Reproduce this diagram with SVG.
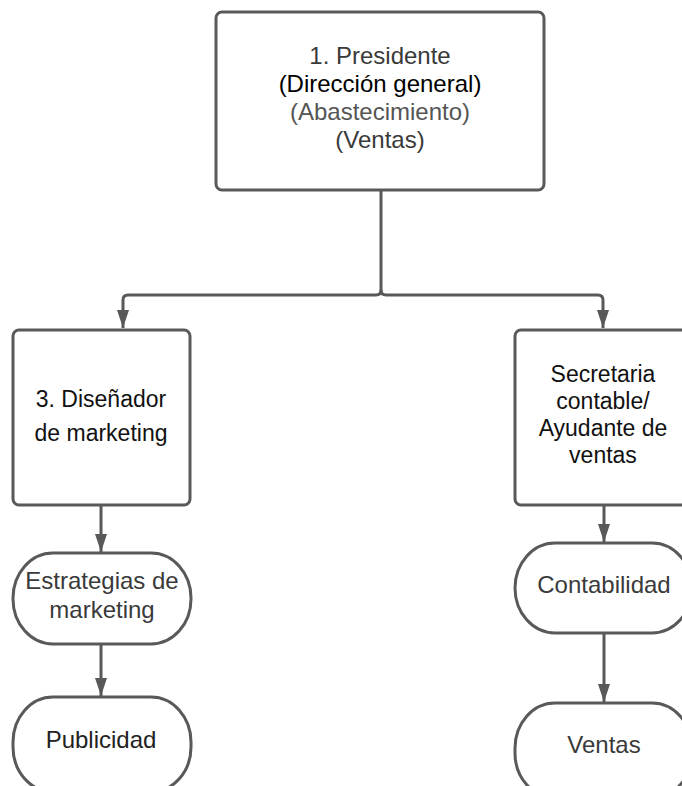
<svg xmlns="http://www.w3.org/2000/svg" width="682" height="786" viewBox="0 0 682 786">
<defs>
<marker id="ah" viewBox="0 0 18 12" refX="18" refY="6" markerWidth="18" markerHeight="12" markerUnits="userSpaceOnUse" orient="auto">
<path d="M0,0 L18,6 L0,12 Z" fill="#595959"/>
</marker>
</defs>
<style>
.box{fill:#fff;stroke:#595959;stroke-width:3}
.ln{fill:none;stroke:#595959;stroke-width:3}
text{font-family:"Liberation Sans",Arial,sans-serif;text-anchor:middle;fill:#3a3a3a}
.t24{font-size:24px}
.t23{font-size:23px}
</style>
<rect width="682" height="786" fill="#fff"/>
<g id="connectors">
<path class="ln" d="M381,190 V290 Q381,295 376,295 H128 Q123,295 123,300 V328" marker-end="url(#ah)"/>
<path class="ln" d="M381,290 Q381,295 386,295 H598 Q603,295 603,300 V328" marker-end="url(#ah)"/>
<path class="ln" d="M101,505 V552" marker-end="url(#ah)"/>
<path class="ln" d="M101,644 V696" marker-end="url(#ah)"/>
<path class="ln" d="M604,505 V542" marker-end="url(#ah)"/>
<path class="ln" d="M604,633 V702" marker-end="url(#ah)"/>
</g>
<g id="presidente">
<rect class="box" x="216" y="12" width="328" height="178" rx="6"/>
<text class="t24" x="380" y="64">1. Presidente</text>
<text class="t24" x="380" y="92" style="fill:#000">(Dirección general)</text>
<text class="t24" x="380" y="120" style="fill:#555">(Abastecimiento)</text>
<text class="t24" x="380" y="148">(Ventas)</text>
</g>
<g id="disenador">
<rect class="box" x="13" y="330" width="177" height="175" rx="6"/>
<text class="t23" x="101" y="407" style="fill:#111">3. Diseñador</text>
<text class="t23" x="101" y="441" style="fill:#111">de marketing</text>
</g>
<g id="secretaria">
<rect class="box" x="515" y="330" width="177" height="175" rx="6"/>
<text class="t23" x="603" y="382" style="fill:#111">Secretaria</text>
<text class="t23" x="603" y="409" style="fill:#111">contable/</text>
<text class="t23" x="603" y="436" style="fill:#111">Ayudante de</text>
<text class="t23" x="603" y="463" style="fill:#111">ventas</text>
</g>
<g id="estrategias">
<rect class="box" x="13" y="553" width="178" height="91" rx="40" ry="45"/>
<text class="t24" x="102" y="589">Estrategias de</text>
<text class="t24" x="102" y="618">marketing</text>
</g>
<g id="publicidad">
<rect class="box" x="13" y="697" width="178" height="95" rx="40" ry="45"/>
<text class="t24" x="101" y="748" style="fill:#222">Publicidad</text>
</g>
<g id="contabilidad">
<rect class="box" x="515" y="543" width="177" height="90" rx="40" ry="45"/>
<text class="t24" x="604" y="593">Contabilidad</text>
</g>
<g id="ventas">
<rect class="box" x="515" y="703" width="177" height="95" rx="40" ry="45"/>
<text class="t24" x="604" y="753">Ventas</text>
</g>
</svg>
